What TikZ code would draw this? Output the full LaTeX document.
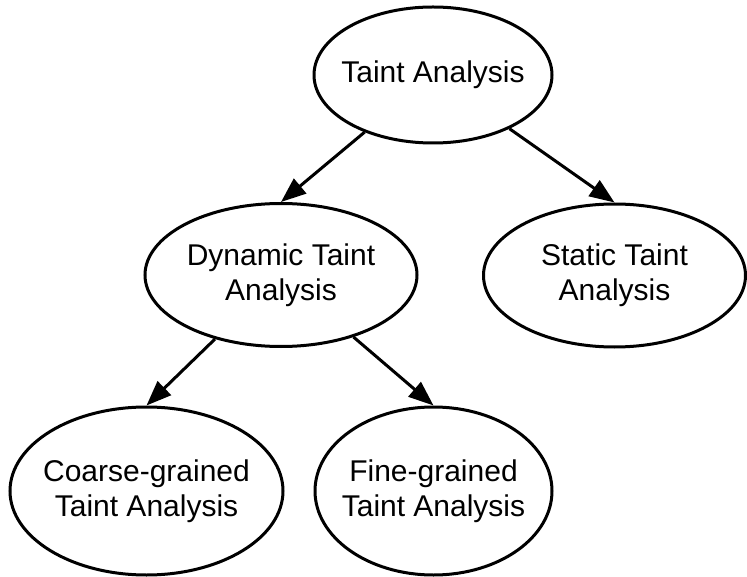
\documentclass[tikz,border=0pt]{standalone}
\usepackage{fontspec}
\setmainfont{Liberation Sans}
\usetikzlibrary{shapes.geometric,arrows.meta}

\tikzset{
  oval/.style={ellipse, draw=black, line width=3pt, fill=white, inner sep=0pt},
  caption/.style={align=center, font=\fontsize{30}{35}\selectfont},
  link/.style={draw=black, line width=3pt,
    -{Triangle[length=25pt,width=19pt]}}
}

\begin{document}
\begin{tikzpicture}[x=1pt,y=-1pt]
  % canvas
  \useasboundingbox (0,0) rectangle (747,577);
  \fill[white] (0,0) rectangle (747,577);

  % taxonomy nodes (text set as centred labels so it does not widen the ovals)
  \node[oval, minimum width=238pt, minimum height=136pt,
        label={[caption]center:Taint Analysis}] (root) at (433,75) {};
  \node[oval, minimum width=272pt, minimum height=143pt,
        label={[caption]center:Dynamic Taint\\Analysis}] (dyn) at (281,275) {};
  \node[oval, minimum width=262pt, minimum height=143pt,
        label={[caption]center:Static Taint\\Analysis}] (sta) at (614.5,275.5) {};
  \node[oval, minimum width=273pt, minimum height=168pt,
        label={[caption]center:Coarse-grained\\Taint Analysis}] (coarse) at (146.5,491) {};
  \node[oval, minimum width=237pt, minimum height=168pt,
        label={[caption]center:Fine-grained\\Taint Analysis}] (fine) at (433.5,491) {};

  % hierarchy links
  \draw[link] (root) -- (dyn.north);
  \draw[link] (root) -- (sta.north);
  \draw[link] (dyn) -- (coarse.north);
  \draw[link] (dyn) -- (fine.north);
\end{tikzpicture}
\end{document}
